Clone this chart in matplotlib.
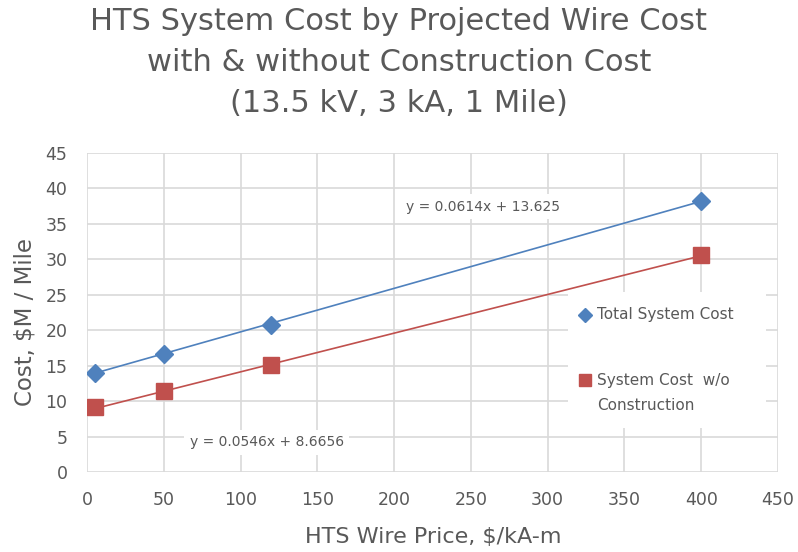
import numpy as np
import matplotlib.pyplot as plt
from matplotlib.patches import Rectangle

# wire price ($/kA-m) vs system cost ($M per mile)
wire_price = [5, 50, 120, 400]
total_cost = [14.0, 16.6, 20.8, 38.2]
no_constr_cost = [9.1, 11.4, 15.1, 30.6]

# linear fits shown on the chart
fit_total = (0.0614, 13.625)
fit_no_constr = (0.0546, 8.6656)

series_names = ['Total System Cost', 'System Cost  w/o', 'Construction']

x_ticks = np.arange(0, 451, 50)
y_ticks = np.arange(0, 46, 5)

blue = '#4F81BD'
red = '#C0504D'
grey = '#595959'

plt.rcParams['font.family'] = ['DejaVu Sans']

W, H = 798, 552
fig = plt.figure(figsize=(W / 100, H / 100), dpi=100)
ax = fig.add_axes([87 / W, 1 - 472 / H, 691 / W, 319 / H])

def px(x, y):
    # pixel position -> axes fraction
    return (x - 87) / 691, (472 - y) / 319

xs = np.array([min(wire_price), max(wire_price)])
ax.plot(xs, fit_total[0] * xs + fit_total[1], color=blue, linewidth=1.2, zorder=3)
ax.plot(xs, fit_no_constr[0] * xs + fit_no_constr[1], color=red, linewidth=1.2, zorder=3)

ax.plot(wire_price, total_cost, linestyle='none', marker='D', markersize=9.5,
        color=blue, zorder=4)
ax.plot(wire_price, no_constr_cost, linestyle='none', marker='s', markersize=11.5,
        color=red, zorder=4)

ax.set_xlim(0, 450)
ax.set_ylim(0, 45)
ax.set_xticks(x_ticks)
ax.set_yticks(y_ticks)
ax.grid(True, color='#d9d9d9', linewidth=1.2)
ax.set_axisbelow(True)
for s in ax.spines.values():
    s.set_visible(False)
ax.tick_params(length=0, labelsize=12.5, labelcolor=grey)
ax.tick_params(axis='x', pad=14)
ax.tick_params(axis='y', pad=14)

fig.text(433 / W, 1 - 537 / H, 'HTS Wire Price, $/kA-m', fontsize=16,
         color=grey, ha='center', va='center')
fig.text(25 / W, 1 - 322 / H, 'Cost, $M / Mile', fontsize=16.5,
         color=grey, ha='center', va='center', rotation=90)

box = dict(facecolor='white', edgecolor='none', pad=4)
ax.text(258, 37.4, 'y = 0.0614x + 13.625', fontsize=10, color=grey,
        ha='center', va='center', bbox=box, zorder=2)
ax.text(117, 4.2, 'y = 0.0546x + 8.6656', fontsize=10, color=grey,
        ha='center', va='center', bbox=box, zorder=2)

# legend panel inside the plot area
x0, y0 = px(568, 428)
x1, y1 = px(766, 292)
ax.add_patch(Rectangle((x0, y0), x1 - x0, y1 - y0, transform=ax.transAxes,
                       facecolor='white', edgecolor='none', zorder=5))
ax.plot(*px(585, 315), marker='D', markersize=7.5, color=blue,
        transform=ax.transAxes, zorder=6, clip_on=False)
ax.plot(*px(585, 380), marker='s', markersize=9, color=red,
        transform=ax.transAxes, zorder=6, clip_on=False)
for name, yp in zip(series_names, [315, 380, 405]):
    ax.text(*px(597, yp), name, transform=ax.transAxes, fontsize=11,
            color=grey, ha='left', va='center', zorder=6)

title_lines = ['HTS System Cost by Projected Wire Cost',
               'with & without Construction Cost',
               '(13.5 kV, 3 kA, 1 Mile)']
for line, yc in zip(title_lines, [22, 62, 103]):
    fig.text(0.5, 1 - yc / H, line, ha='center', va='center',
             fontsize=22, color=grey)

fig.savefig('out.png', dpi=100)
